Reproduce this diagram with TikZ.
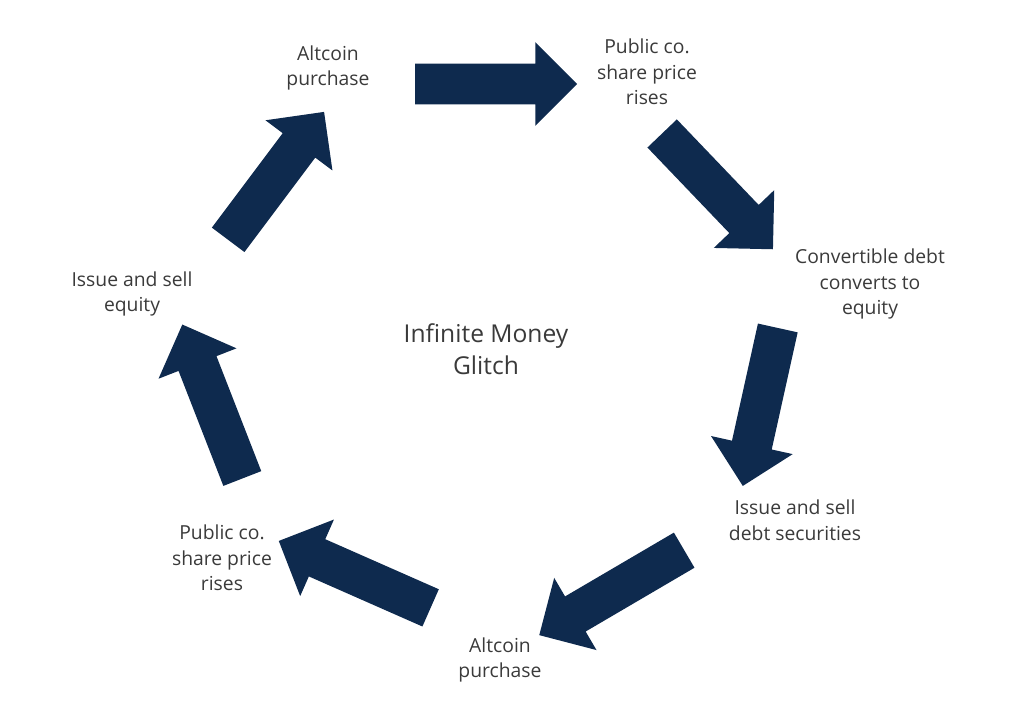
\documentclass[tikz,border=0pt]{standalone}
\usepackage{fontspec}
\setmainfont{Open Sans}
\usetikzlibrary{shapes.arrows,calc}
\definecolor{navy}{HTML}{0E2A4E}
\definecolor{txt}{HTML}{3A3A3A}
\tikzset{
  lbl/.style={align=center,text=txt,font=\fontsize{11}{14.6}\selectfont},
  title/.style={align=center,text=txt,font=\fontsize{14}{18.5}\selectfont},
  blk/.style={single arrow,fill=navy,draw=none,inner xsep=0pt,inner ysep=0.4cm,single arrow head extend=0.43cm}
}
\newcommand{\blockarr}[2]{%
  \path let \p1=(#1), \p2=(#2), \n1={atan2(\y2-\y1,\x2-\x1)}, \n2={veclen(\x2-\x1,\y2-\y1)} in
    node[blk,minimum height=\n2,rotate=\n1] at ($(#1)!0.5!(#2)$) {};}
\begin{document}
\begin{tikzpicture}[x=0.02cm,y=-0.02cm]
\useasboundingbox (0,0) rectangle (1024,721);
\node[lbl] (n1) at (328,68) {Altcoin\\purchase};
\node[lbl] (n2) at (647,72) {Public co.\\share price\\rises};
\node[lbl] (n3) at (870,284) {Convertible debt\\converts to\\equity};
\node[lbl] (n4) at (795,520) {Issue and sell\\debt securities};
\node[lbl] (n5) at (500,660) {Altcoin\\purchase};
\node[lbl] (n6) at (222,558) {Public co.\\share price\\rises};
\node[lbl] (n7) at (132,294) {Issue and sell\\equity};
\node[title] (c) at (486,349) {Infinite Money\\Glitch};
\coordinate (a1) at (405,84); \coordinate (b1) at (567,84);
\coordinate (a2) at (655,126); \coordinate (b2) at (766,242);
\coordinate (a3) at (780,318); \coordinate (b3) at (745,476);
\coordinate (a4) at (693,545); \coordinate (b4) at (548,630);
\coordinate (a5) at (440,612); \coordinate (b5) at (288,545);
\coordinate (a6) at (246,488); \coordinate (b6) at (186,334);
\coordinate (a7) at (222,248); \coordinate (b7) at (318,120);
\blockarr{a1}{b1}
\blockarr{a2}{b2}
\blockarr{a3}{b3}
\blockarr{a4}{b4}
\blockarr{a5}{b5}
\blockarr{a6}{b6}
\blockarr{a7}{b7}
\end{tikzpicture}
\end{document}
